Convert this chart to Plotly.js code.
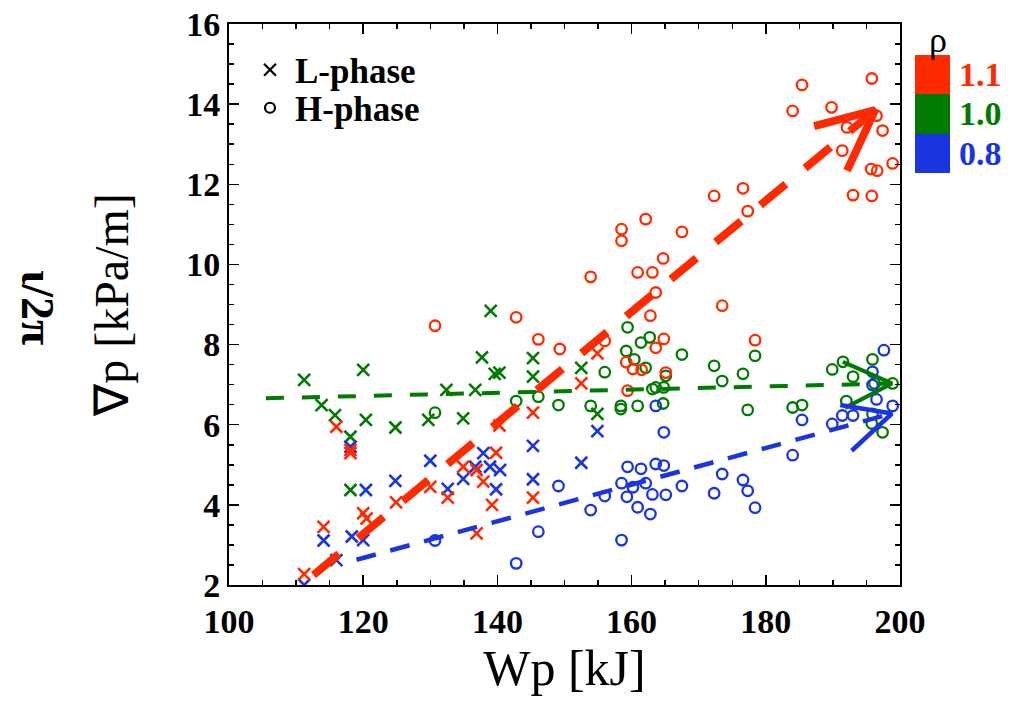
<!DOCTYPE html>
<html>
<head>
<meta charset="utf-8">
<script src="https://cdn.plot.ly/plotly-3.0.1.min.js"></script>
<style>html,body{margin:0;padding:0;background:#fff;}#chart{width:1019px;height:712px;}</style>
</head>
<body>
<div id="chart"></div>
<script>
// ---- data ----
const redL_x = [111.2,114.1,116.0,118.1,118.1,120.0,120.5,124.9,130.0,132.6,134.9,136.9,137.9,136.9,139.2,139.8,140.3,145.3,145.3,152.5,154.9];
const redL_y = [2.27,3.45,5.95,5.37,5.29,3.79,3.66,4.06,4.45,4.18,4.95,4.87,4.58,3.29,4.00,5.30,5.98,6.30,4.18,7.03,7.78];
const redH_x = [130.7,142.8,146.1,149.3,153.9,156.0,158.5,158.5,159.2,159.4,160.2,160.9,161.5,162.1,162.8,163.1,163.6,163.6,164.7,164.8,165.1,167.5,172.3,173.5,176.6,177.3,178.4,184.0,185.4,189.8,191.4,192.1,193.0,195.7,195.8,195.8,196.5,196.6,197.4,198.9];
const redH_y = [8.47,8.68,8.13,7.89,9.69,8.09,10.88,10.59,7.56,6.85,7.39,9.80,7.37,11.13,8.72,9.80,9.30,7.92,10.15,8.14,7.30,10.81,11.71,8.97,11.90,11.33,8.11,13.83,14.48,13.92,12.84,13.42,11.73,12.38,14.64,11.71,13.71,12.34,13.34,12.52];

const greenL_x = [111.2,113.8,115.8,118.1,118.1,120.0,120.4,124.8,129.7,132.4,134.9,136.7,137.7,139.0,139.6,140.3,145.3,145.3,152.5,154.9];
const greenL_y = [7.12,6.49,6.24,5.70,4.37,7.37,6.12,5.93,6.12,6.87,6.16,6.87,7.68,8.84,7.27,7.30,7.66,7.20,7.42,6.27];
const greenH_x = [130.7,142.8,146.1,149.1,153.9,156.0,158.4,158.4,159.2,159.4,160.4,160.9,161.4,162.1,162.7,163.1,163.6,164.7,164.8,165.1,167.5,172.3,173.5,176.6,177.3,178.4,184.0,185.4,189.9,191.5,192.0,193.0,195.8,195.9,195.9,196.2,197.4,198.9];
const greenH_y = [6.30,6.59,6.70,6.49,6.47,7.31,6.47,6.39,7.84,8.43,7.63,6.47,8.05,7.42,8.18,6.89,6.93,6.53,6.93,7.22,7.75,7.47,7.09,7.27,6.37,7.72,6.43,6.49,7.38,7.57,6.59,7.20,6.03,7.63,6.27,7.03,5.81,7.03];

const blueL_x = [111.2,114.1,116.0,118.1,118.3,120.0,120.4,124.8,130.0,132.6,134.9,136.7,137.9,138.9,139.8,140.4,145.3,145.3,152.5,154.9];
const blueL_y = [2.00,3.11,2.62,5.45,3.21,3.12,4.37,4.60,5.10,4.40,4.65,4.95,5.29,4.95,4.39,4.87,5.47,4.64,5.05,5.84];
const blueH_x = [130.7,142.8,146.1,149.1,153.9,156.0,158.5,158.5,159.3,159.4,160.2,160.9,161.4,162.1,162.8,163.1,163.6,163.6,164.8,164.8,165.1,167.5,172.3,173.5,176.6,177.3,178.4,184.0,185.4,189.9,191.4,193.0,195.9,195.9,196.5,197.6,198.9];
const blueH_y = [3.11,2.54,3.33,4.47,3.87,4.22,4.54,3.12,4.20,4.95,4.44,3.94,4.90,4.54,3.77,4.26,5.02,6.47,4.98,5.81,4.25,4.47,4.29,4.77,4.62,4.35,3.93,5.24,6.12,6.02,6.23,6.23,7.32,6.99,6.63,7.86,6.47];

// trend arrows: [start, tip] and arrow-head [arm1, tip, arm2]
const redArrow_x = [112.6,196.3], redArrow_y = [2.25,13.85];
const redHead_x = [187.2,196.3,192.1], redHead_y = [13.45,13.85,12.34];
const greenArrow_x = [105.5,198.8], greenArrow_y = [6.66,7.03];
const greenHead_x = [191.5,198.8,191.8], greenHead_y = [7.57,7.03,6.42];
const blueArrow_x = [119.0,198.8], blueArrow_y = [2.63,6.28];
const blueHead_x = [191.1,198.8,192.8], blueHead_y = [6.49,6.28,5.35];

const rhoLabels = ['1.1','1.0','0.8'];
const xTitle = 'Wp [kJ]';
const yTitle = '∇p [kPa/m]';
const yTitle2 = 'ι/2π';
const legendNames = ['L-phase','H-phase'];

// ---- styles ----
const RED = '#ff2a00', GREEN = '#007a00', BLUE = '#1a35e0';
const SERIF = 'Liberation Serif, Times New Roman, serif';

function xs(x,y,c){return {x:x,y:y,type:'scatter',mode:'markers',showlegend:false,hoverinfo:'skip',
  marker:{symbol:'x-thin-open',size:12,color:c,line:{color:c,width:2.6}}};}
function os(x,y,c){return {x:x,y:y,type:'scatter',mode:'markers',showlegend:false,hoverinfo:'skip',
  marker:{symbol:'circle-open',size:10.5,color:c,line:{color:c,width:2.3}}};}
function ln(x,y,c,w,dash){return {x:x,y:y,type:'scatter',mode:'lines',showlegend:false,hoverinfo:'skip',
  line:{color:c,width:w,dash:dash}};}

const traces = [
  xs(greenL_x,greenL_y,GREEN), xs(blueL_x,blueL_y,BLUE), xs(redL_x,redL_y,RED),
  os(greenH_x,greenH_y,GREEN), os(blueH_x,blueH_y,BLUE), os(redH_x,redH_y,RED),
  ln(greenArrow_x,greenArrow_y,GREEN,4,'18px,18px'),
  ln(greenHead_x,greenHead_y,GREEN,4,'solid'),
  ln(blueArrow_x,blueArrow_y,BLUE,4.5,'20px,15px'),
  ln(blueHead_x,blueHead_y,BLUE,4.5,'solid'),
  ln(redArrow_x,redArrow_y,RED,8,'33px,25px'),
  ln(redHead_x,redHead_y,RED,8,'solid'),
  {x:[null],y:[null],type:'scatter',mode:'markers',name:legendNames[0],showlegend:true,legend:'legend',
   marker:{symbol:'x-thin-open',size:12,color:'black',line:{color:'black',width:2.2}}},
  {x:[null],y:[null],type:'scatter',mode:'markers',name:legendNames[1],showlegend:true,legend:'legend2',
   marker:{symbol:'circle-open',size:10,color:'black',line:{color:'black',width:2.2}}}
];

const axisCommon = {
  showgrid:false, zeroline:false, showline:true, linecolor:'black', linewidth:2,
  mirror:'ticks', ticks:'inside', ticklen:10, tickwidth:1.5, tickcolor:'black',
  tickfont:{family:SERIF,size:34,color:'black',weight:'bold'}
};

const pl = {x0:229, x1:900, y0:24, y1:585};
function px(v){return (v-pl.x0)/(pl.x1-pl.x0);}
function py(v){return (pl.y1-v)/(pl.y1-pl.y0);}

const rhoColors = [RED,GREEN,BLUE];
const rhoTops = [55,94,134,173];
const shapes = rhoLabels.map((l,i)=>({type:'rect',xref:'paper',yref:'paper',
  x0:px(915),x1:px(950),y0:py(rhoTops[i+1]),y1:py(rhoTops[i]),fillcolor:rhoColors[i],line:{width:0}}));
const annotations = rhoLabels.map((l,i)=>({xref:'paper',yref:'paper',x:px(957),y:py((rhoTops[i]+rhoTops[i+1])/2),
  xanchor:'left',yanchor:'middle',text:l,showarrow:false,
  font:{family:SERIF,size:34,color:rhoColors[i],weight:'bold'}}));
annotations.push({xref:'paper',yref:'paper',x:px(938),y:py(40),xanchor:'center',yanchor:'middle',text:'ρ',showarrow:false,
  font:{family:SERIF,size:36,color:'black'}});
annotations.push({xref:'paper',yref:'paper',x:px(37),y:py(307),xanchor:'center',yanchor:'middle',text:yTitle2,showarrow:false,
  textangle:90,font:{family:SERIF,size:46,color:'black',weight:'bold'}});

const legFont = {family:SERIF,size:35,color:'black',weight:'bold'};
const layout = {
  width:1019, height:712,
  margin:{l:pl.x0, r:1019-pl.x1, t:pl.y0, b:712-pl.y1},
  paper_bgcolor:'white', plot_bgcolor:'white',
  xaxis:Object.assign({}, axisCommon, {range:[100,200], tick0:100, dtick:20, ticklabelstandoff:5,
    minor:{dtick:5, ticks:'inside', ticklen:5, tickwidth:1.5, tickcolor:'black'},
    title:{text:xTitle, font:{family:SERIF,size:50,color:'black'}, standoff:10}}),
  yaxis:Object.assign({}, axisCommon, {range:[2,16], tick0:2, dtick:2,
    minor:{dtick:0.5, ticks:'inside', ticklen:5, tickwidth:1.5, tickcolor:'black'},
    title:{text:yTitle, font:{family:SERIF,size:48,color:'black'}, standoff:42}}),
  showlegend:true,
  legend:{x:px(245), y:py(70), xanchor:'left', yanchor:'middle', bgcolor:'rgba(0,0,0,0)',
    font:legFont, itemwidth:40},
  legend2:{x:px(245), y:py(108), xanchor:'left', yanchor:'middle', bgcolor:'rgba(0,0,0,0)',
    font:legFont, itemwidth:40},
  shapes:shapes, annotations:annotations
};

Plotly.newPlot('chart', traces, layout, {staticPlot:true, displayModeBar:false});
</script>
</body>
</html>
